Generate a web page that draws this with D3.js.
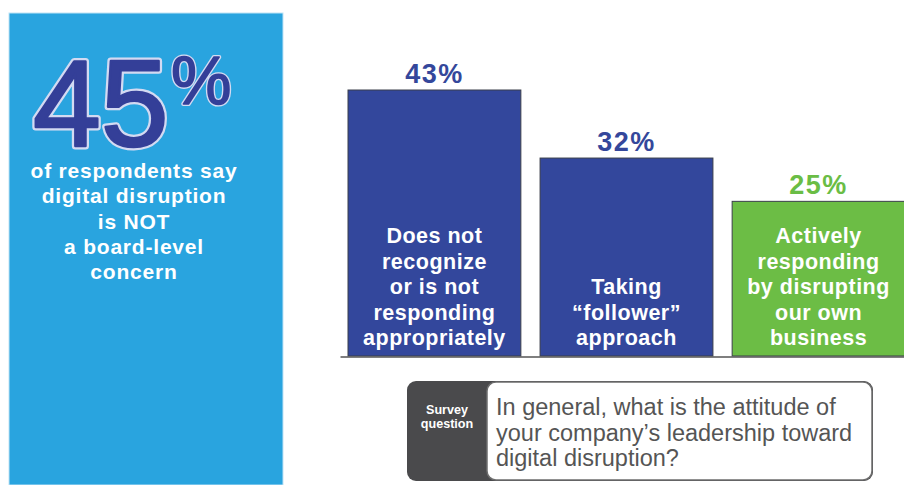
<!DOCTYPE html>
<html>
<head>
<meta charset="utf-8">
<script src="https://cdn.jsdelivr.net/npm/d3@7/dist/d3.min.js"></script>
<style>
  html, body { margin: 0; padding: 0; background: #ffffff; }
  svg { display: block; }
  text { font-family: "Liberation Sans", Arial, sans-serif; }
</style>
</head>
<body>
<script>
// Survey results: attitude of company leadership toward digital disruption
const categories = ["Does not recognize", "Taking follower", "Actively responding"];
const values = [43, 32, 25];
const barLabels = [
  ["Does not", "recognize", "or is not", "responding", "appropriately"],
  ["Taking", "\u201cfollower\u201d", "approach"],
  ["Actively", "responding", "by disrupting", "our own", "business"]
];
const barColors = ["#33479c", "#33479c", "#6cbd45"];
const valueColors = ["#34479b", "#34479b", "#6abd45"];

// Callout panel
const headlineValue = 45;
const headlineLines = ["of respondents say", "digital disruption", "is NOT", "a board-level", "concern"];

// Survey question box
const questionTag = ["Survey", "question"];
const questionLines = ["In general, what is the attitude of", "your company\u2019s leadership toward", "digital disruption?"];

const W = 904, H = 485;
const svg = d3.select("body").append("svg").attr("width", W).attr("height", H);

// ---- Left callout panel ----
svg.append("rect")
  .attr("x", 9).attr("y", 13).attr("width", 274).attr("height", H - 13)
  .attr("fill", "#29a4df").attr("stroke", "#bfe3f6").attr("stroke-width", 1);

// Outlined headline figure: light halo underneath, dark fill on top
const headline = svg.append("g");
[{ s: "#d3daf2", w: 7 }, { s: "#343f98", w: 2.5 }].forEach(layer => {
  headline.append("text")
    .attr("x", 33).attr("y", 146)
    .attr("font-size", 122)
    .attr("fill", "#343f98").attr("stroke", layer.s).attr("stroke-width", layer.w)
    .attr("stroke-linejoin", "round")
    .text(headlineValue);
  headline.append("text")
    .attr("x", 171).attr("y", 104)
    .attr("font-size", 68)
    .attr("fill", "#343f98").attr("stroke", layer.s).attr("stroke-width", layer.w * 0.6)
    .attr("stroke-linejoin", "round")
    .text("%");
});

svg.append("g").selectAll("text")
  .data(headlineLines).join("text")
  .attr("x", 134).attr("y", (d, i) => 178 + i * 25.3)
  .attr("text-anchor", "middle")
  .attr("font-size", 21).attr("font-weight", "bold")
  .attr("letter-spacing", 0.8)
  .attr("fill", "#ffffff")
  .text(d => d);

// ---- Bar chart ----
const baseY = 356;
const x = d3.scaleBand()
  .domain(categories)
  .range([348, 905])
  .paddingInner(0.1)
  .paddingOuter(0);
const y = d3.scaleLinear().domain([0, 43]).range([baseY, 90]);

const bars = svg.append("g").selectAll("g")
  .data(categories).join("g");

bars.append("rect")
  .attr("x", d => x(d))
  .attr("y", (d, i) => y(values[i]))
  .attr("width", x.bandwidth())
  .attr("height", (d, i) => baseY - y(values[i]))
  .attr("fill", (d, i) => barColors[i])
  .attr("stroke", "#3a3f4a").attr("stroke-width", 1);

bars.append("text")
  .attr("x", d => x(d) + x.bandwidth() / 2)
  .attr("y", (d, i) => y(values[i]) - 7)
  .attr("text-anchor", "middle")
  .attr("font-size", 27).attr("font-weight", "bold")
  .attr("letter-spacing", 1.5)
  .attr("fill", (d, i) => valueColors[i])
  .text((d, i) => values[i] + "%");

bars.each(function(d, i) {
  const lines = barLabels[i];
  d3.select(this).append("g").selectAll("text")
    .data(lines).join("text")
    .attr("x", x(d) + x.bandwidth() / 2)
    .attr("y", (t, j) => 345 - (lines.length - 1 - j) * 25.5)
    .attr("text-anchor", "middle")
    .attr("font-size", 21.5).attr("font-weight", "bold")
    .attr("letter-spacing", 0.5)
    .attr("fill", "#ffffff")
    .text(t => t);
});

// baseline axis
const axis = d3.axisBottom(d3.scaleLinear().range([340, W])).ticks(0).tickSize(0).tickFormat("");
svg.append("g")
  .attr("transform", `translate(0,${baseY + 0.5})`)
  .call(axis)
  .call(g => g.select(".domain").attr("stroke", "#555").attr("stroke-width", 1.5));

// ---- Survey question box ----
const qb = svg.append("g");
qb.append("rect")
  .attr("x", 407).attr("y", 381).attr("width", 466).attr("height", 100)
  .attr("rx", 9).attr("fill", "#4a4a4c");
qb.append("rect")
  .attr("x", 487).attr("y", 382).attr("width", 385).attr("height", 98)
  .attr("rx", 9).attr("fill", "#ffffff").attr("stroke", "#6d6d6d").attr("stroke-width", 1.5);

qb.selectAll("text.tag")
  .data(questionTag).join("text")
  .attr("class", "tag")
  .attr("x", 447).attr("y", (d, i) => 414 + i * 14)
  .attr("text-anchor", "middle")
  .attr("font-size", 12).attr("font-weight", "bold")
  .attr("fill", "#ffffff")
  .attr("transform", "translate(447,0) scale(1.05,1) translate(-447,0)")
  .text(d => d);

qb.selectAll("text.q")
  .data(questionLines).join("text")
  .attr("class", "q")
  .attr("x", 496).attr("y", (d, i) => 415 + i * 25.5)
  .attr("font-size", 23.5)
  .attr("fill", "#555555")
  .text(d => d);
</script>
</body>
</html>
